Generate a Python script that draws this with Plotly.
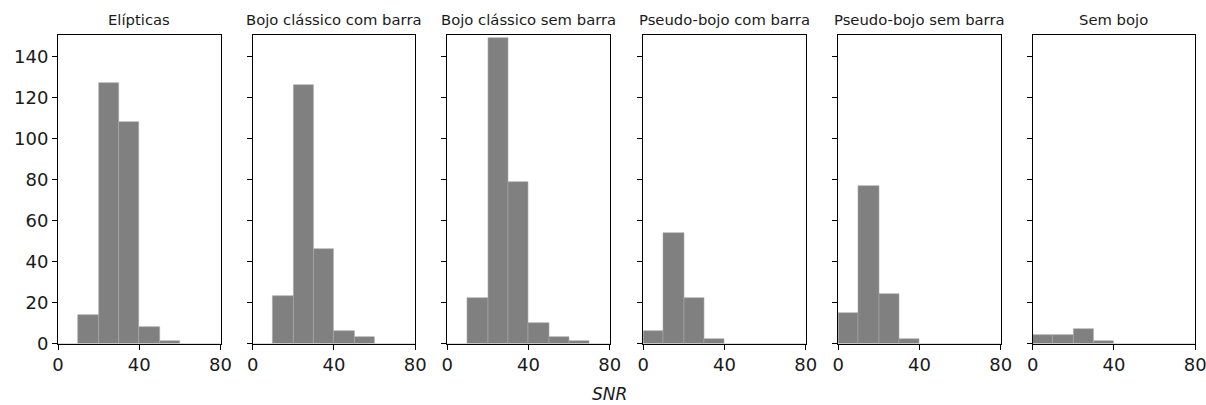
import plotly.graph_objects as go

# Histogram counts per morphological class, 10-unit SNR bins from 0 to 80
bin_edges = [0, 10, 20, 30, 40, 50, 60, 70, 80]
panel_titles = [
    "Elípticas",
    "Bojo clássico com barra",
    "Bojo clássico sem barra",
    "Pseudo-bojo com barra",
    "Pseudo-bojo sem barra",
    "Sem bojo",
]
counts_elipticas = [0, 14, 127, 108, 8, 1, 0, 0]
counts_classico_barra = [0, 23, 126, 46, 6, 3, 0, 0]
counts_classico_sem_barra = [0, 22, 149, 79, 10, 3, 1, 0]
counts_pseudo_barra = [6, 54, 22, 2, 0, 0, 0, 0]
counts_pseudo_sem_barra = [15, 77, 24, 2, 0, 0, 0, 0]
counts_sem_bojo = [4, 4, 7, 1, 0, 0, 0, 0]
x_ticks = [0, 40, 80]
y_ticks = [0, 20, 40, 60, 80, 100, 120, 140]

all_counts = [
    counts_elipticas,
    counts_classico_barra,
    counts_classico_sem_barra,
    counts_pseudo_barra,
    counts_pseudo_sem_barra,
    counts_sem_bojo,
]

W, H = 1206, 405
panel_left = [58, 252.7, 447.3, 643.3, 838.3, 1032.7]
panel_w = 162.5
plot_top, plot_bottom = 35, 343.5
y_dom = [1 - plot_bottom / H, 1 - plot_top / H]

centers = [(a + b) / 2 for a, b in zip(bin_edges[:-1], bin_edges[1:])]
widths = [b - a for a, b in zip(bin_edges[:-1], bin_edges[1:])]

fig = go.Figure()
font_family = "DejaVu Sans"
layout = {}
annotations = []

for i, (title, counts) in enumerate(zip(panel_titles, all_counts)):
    n = "" if i == 0 else str(i + 1)
    fig.add_trace(go.Bar(
        x=centers, y=counts, width=widths,
        marker=dict(color="#808080", line=dict(width=0.6, color="#a8a8a8")),
        xaxis="x" + n, yaxis="y" + n, showlegend=False,
    ))
    x0 = panel_left[i] / W
    x1 = (panel_left[i] + panel_w) / W
    axis_common = dict(
        showline=True, linecolor="black", linewidth=1, mirror=True,
        ticks="outside", ticklen=5, tickwidth=1, tickcolor="black",
        showgrid=False, zeroline=False, automargin=False,
        ticklabeloverflow="allow",
        tickfont=dict(family=font_family, size=18, color="#1a1a1a"),
    )
    layout["xaxis" + n] = dict(
        domain=[x0, x1], anchor="y" + n, range=[0, 80],
        tickmode="array", tickvals=x_ticks, **axis_common,
    )
    layout["yaxis" + n] = dict(
        domain=y_dom, anchor="x" + n, range=[0, 150.6],
        tickmode="array", tickvals=y_ticks,
        showticklabels=(i == 0), **axis_common,
    )
    annotations.append(dict(
        text=title, x=(x0 + x1) / 2, y=1 - 19 / H,
        xref="paper", yref="paper", showarrow=False,
        xanchor="center", yanchor="middle",
        font=dict(family=font_family, size=14.8, color="#1a1a1a"),
    ))

annotations.append(dict(
    text="<i>SNR</i>", x=609 / W, y=1 - 394 / H,
    xref="paper", yref="paper", showarrow=False,
    xanchor="center", yanchor="middle", borderpad=0,
    font=dict(family=font_family, size=17, color="#1a1a1a"),
))

fig.update_layout(
    width=W, height=H,
    margin=dict(l=0, r=0, t=0, b=0, autoexpand=False),
    plot_bgcolor="white", paper_bgcolor="white",
    bargap=0, annotations=annotations,
    **layout,
)

fig.write_html("out.html")
